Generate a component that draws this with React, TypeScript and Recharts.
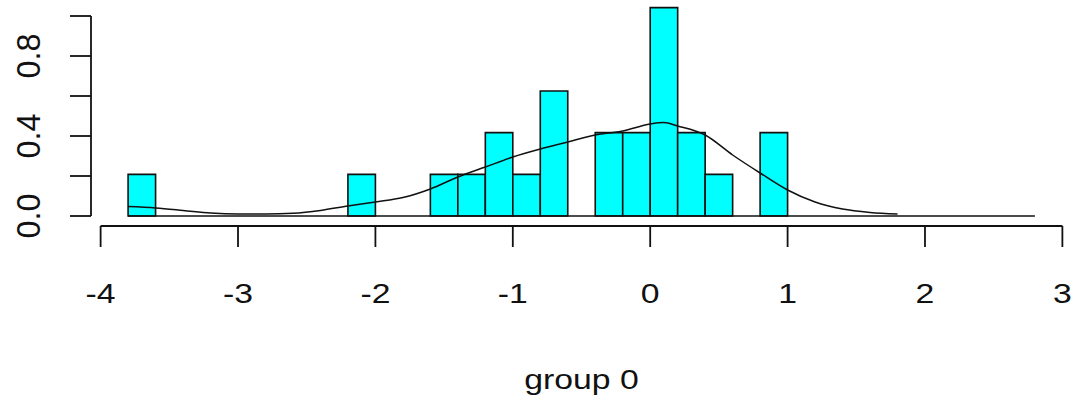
import { ComposedChart, Line, XAxis, YAxis, ReferenceArea, ReferenceLine } from 'recharts'

// histogram of "group 0" (24 obs, bin width 0.2) with a density curve on top
const binStarts = [
  -3.8, -3.6, -3.4, -3.2, -3.0, -2.8, -2.6, -2.4, -2.2, -2.0, -1.8, -1.6, -1.4, -1.2, -1.0, -0.8, -0.6,
  -0.4, -0.2, 0.0, 0.2, 0.4, 0.6, 0.8, 1.0, 1.2, 1.4, 1.6, 1.8, 2.0, 2.2, 2.4, 2.6,
]
const binCounts = [
  1, 0, 0, 0, 0, 0, 0, 0, 1, 0, 0, 1, 1, 2, 1, 3, 0,
  2, 2, 5, 2, 1, 0, 2, 0, 0, 0, 0, 0, 0, 0, 0, 0,
]
const binWidth = 0.2
const sampleSize = 24

const densityX = [
  -3.8, -3.6, -3.4, -3.2, -3.0, -2.8, -2.6, -2.4, -2.2, -2.0, -1.8, -1.6, -1.4, -1.2, -1.0, -0.8,
  -0.6, -0.4, -0.2, 0.0, 0.1, 0.2, 0.4, 0.6, 0.8, 1.0, 1.2, 1.4, 1.6, 1.8,
]
const densityY = [
  0.047, 0.04, 0.028, 0.015, 0.01, 0.01, 0.014, 0.028, 0.05, 0.07, 0.092, 0.135, 0.195, 0.245, 0.295, 0.335,
  0.37, 0.405, 0.425, 0.46, 0.467, 0.45, 0.405, 0.305, 0.215, 0.13, 0.07, 0.035, 0.018, 0.01,
]

const xTicks = [-4, -3, -2, -1, 0, 1, 2, 3]
const yTicks = [0, 0.2, 0.4, 0.6, 0.8, 1.0]
const yTickLabels = ['0.0', '', '0.4', '', '0.8', '']

const curve = densityX.map((x, i) => ({ x, density: densityY[i] }))
const bars = binStarts.map((start, i) => ({
  x1: start,
  x2: start + binWidth,
  density: binCounts[i] / (sampleSize * binWidth),
}))

const font = '"Liberation Sans", Arial, sans-serif'
const ink = '#111'

function XTick({ x, y, payload }: any) {
  return (
    <g transform={`translate(${x},${y + 54})`}>
      <text transform="scale(1.25,1)" textAnchor="middle" fontFamily={font} fontSize={27} fill={ink}>
        {payload.value}
      </text>
    </g>
  )
}

function YTick({ x, y, payload, index }: any) {
  const label = yTickLabels[index] ?? ''
  if (!label) return null
  return (
    <g transform={`translate(${x - 28},${y}) rotate(-90)`}>
      <text transform="scale(1.2,1.25)" textAnchor="middle" fontFamily={font} fontSize={27} fill={ink}>
        {label}
      </text>
    </g>
  )
}

export default function App() {
  return (
    <div style={{ position: 'absolute', left: 0, top: 0, background: '#fff' }}>
      <ComposedChart width={1076} height={406} data={curve} margin={{ top: 0, right: 4, bottom: 0, left: 0 }}>
        <XAxis
          dataKey="x"
          type="number"
          domain={[-4.07, 3.07]}
          allowDataOverflow
          ticks={xTicks}
          interval={0}
          axisLine={false}
          tickSize={21}
          tickLine={{ stroke: ink, strokeWidth: 1.8 }}
          tick={<XTick />}
          height={180}
          label={{
            content: ({ viewBox }: any) => (
              <g transform={`translate(${viewBox.x + viewBox.width / 2},${viewBox.y + 163})`}>
                <text transform="scale(1.25,1)" textAnchor="middle" fontFamily={font} fontSize={27} fill={ink}>
                  group 0
                </text>
              </g>
            ),
          }}
        />
        <YAxis
          type="number"
          domain={[-0.05, 1.08]}
          allowDataOverflow
          ticks={yTicks}
          interval={0}
          axisLine={false}
          tickSize={21}
          tickLine={{ stroke: ink, strokeWidth: 1.8 }}
          tick={<YTick />}
          width={91}
        />
        {bars
          .filter((b) => b.density > 0)
          .map((b) => (
            <ReferenceArea
              key={b.x1}
              x1={b.x1}
              x2={b.x2}
              y1={0}
              y2={b.density}
              fill="#00ffff"
              fillOpacity={1}
              stroke={ink}
              strokeWidth={1.6}
              ifOverflow="visible"
            />
          ))}
        <ReferenceLine
          segment={[
            { x: binStarts[0], y: 0 },
            { x: binStarts[binStarts.length - 1] + binWidth, y: 0 },
          ]}
          stroke={ink}
          strokeWidth={1.6}
          ifOverflow="visible"
        />
        <ReferenceLine
          segment={[
            { x: xTicks[0], y: -0.05 },
            { x: xTicks[xTicks.length - 1], y: -0.05 },
          ]}
          stroke={ink}
          strokeWidth={1.8}
          ifOverflow="visible"
        />
        <ReferenceLine
          segment={[
            { x: -4.07, y: yTicks[0] },
            { x: -4.07, y: yTicks[yTicks.length - 1] },
          ]}
          stroke={ink}
          strokeWidth={1.8}
          ifOverflow="visible"
        />
        <Line
          type="monotone"
          dataKey="density"
          stroke={ink}
          strokeWidth={1.5}
          dot={false}
          isAnimationActive={false}
        />
      </ComposedChart>
    </div>
  )
}
